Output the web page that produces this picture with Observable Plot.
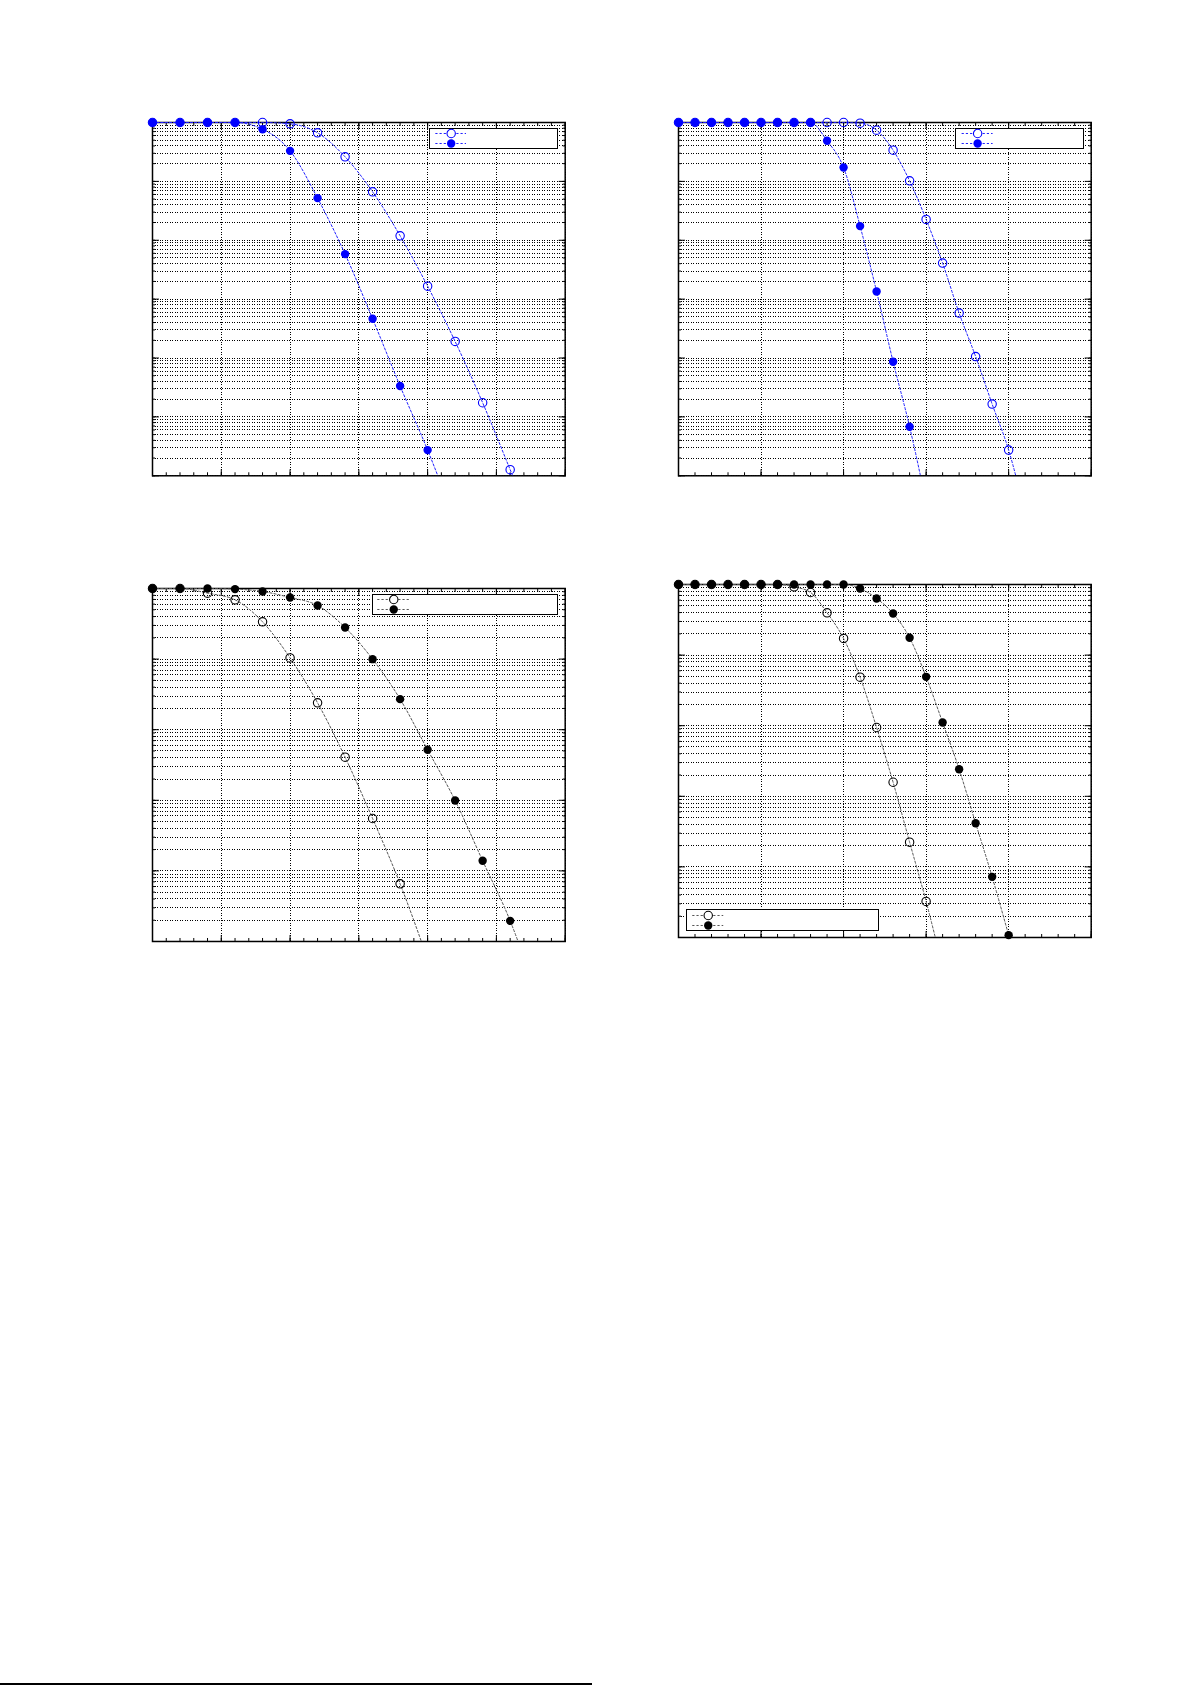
<!DOCTYPE html>
<html><head><meta charset="utf-8">
<script src="https://cdn.jsdelivr.net/npm/d3@7"></script>
<script src="https://cdn.jsdelivr.net/npm/@observablehq/plot@0.6"></script>
<style>
html,body{margin:0;padding:0;background:#fff}
body{width:1191px;height:1685px;position:relative;overflow:hidden;font-family:"DejaVu Sans",sans-serif}
.abs{position:absolute}
.legend{position:absolute;border:1.4px solid #000;background:#fff;box-sizing:border-box}
.footer{position:absolute;left:0;top:1683px;width:592px;height:1.5px;background:#000}
</style></head><body>
<div class="footer"></div>
<script>
// ---- data ----
const p1X = [0,2,4,6,8,10,12,14,16,18,20,22,24,26,28];
const p1Open = [1,1,1,1,1,0.949,0.668,0.261,0.0665,0.0119,1.66e-3,1.91e-4,1.74e-5,1.27e-6,9e-8];
const p1Filled = [1,1,1,1,0.77,0.33,0.0519,5.82e-3,4.64e-4,3.34e-5,2.73e-6,1.7e-7];

const p2X = [0,1,2,3,4,5,6,7,8,9,10,11,12,13,14,15,16,17,18,19,20,21];
const p2Open = [1,1,1,1,1,1,1,1,1,1,1,0.974,0.741,0.339,0.102,0.0226,4.09e-3,5.79e-4,1.06e-4,1.65e-5,2.73e-6,2.3e-7];
const p2Filled = [1,1,1,1,1,1,1,1,1,0.489,0.172,0.0174,1.35e-3,8.65e-5,6.81e-6,3.5e-7];

const p3X = [0,2,4,6,8,10,12,14,16,18,20,22,24,26,28];
const p3Open = [1,1,0.859,0.691,0.337,0.104,0.024,4.08e-3,5.52e-4,6.56e-5,5.6e-6];
const p3Filled = [1,1,1,0.98,0.907,0.746,0.574,0.280,0.0998,0.0271,5.19e-3,9.93e-4,1.39e-4,1.96e-5,1.6e-6];

const p4X = [0,1,2,3,4,5,6,7,8,9,10,11,12,13,14,15,16,17,18,19,20,21];
const p4Open = [1,1,1,1,1,1,1,0.927,0.77,0.397,0.172,0.0487,9.43e-3,1.58e-3,2.24e-4,3.24e-5,3.8e-6];
const p4Filled = [1,1,1,1,1,1,1,1,1,1,1,0.878,0.634,0.388,0.176,0.0492,0.0111,2.42e-3,4.16e-4,7.23e-5,1.08e-5,1.6e-6];

const seriesNames = ["open", "filled"];

// ---- layout ----
const panels = [
  {xs:p1X, open:p1Open, filled:p1Filled, xDomain:[0,30], xMajor:5, xMinor:1, yExp:[-6,0],
   mark:"#0000ff", line:"#2020ff", box:{left:152.3, top:121.7, w:412.7, h:353.3},
   legend:{left:429.3, top:128.3, w:129, h:21, l0:6.7, l1:37.4, y0:5, y1:15.7}},
  {xs:p2X, open:p2Open, filled:p2Filled, xDomain:[0,25], xMajor:5, xMinor:1, yExp:[-6,0],
   mark:"#0000ff", line:"#2020ff", box:{left:678.3, top:121.7, w:412.7, h:353.3},
   legend:{left:955.3, top:128.3, w:129, h:21, l0:7, l1:38, y0:5, y1:15.7}},
  {xs:p3X, open:p3Open, filled:p3Filled, xDomain:[0,30], xMajor:5, xMinor:1, yExp:[-5,0],
   mark:"#000000", line:"#555555", box:{left:152.3, top:588, w:412.7, h:353},
   legend:{left:371.7, top:594.3, w:186.6, h:21, l0:5.6, l1:37.6, y0:5, y1:16}},
  {xs:p4X, open:p4Open, filled:p4Filled, xDomain:[0,25], xMajor:5, xMinor:1, yExp:[-5,0],
   mark:"#000000", line:"#555555", box:{left:678.3, top:584.3, w:412.7, h:353},
   legend:{left:685.7, top:909.3, w:193.6, h:21.7, l0:6.6, l1:37.6, y0:5.7, y1:16.7}}
];

const PAD = 20;
const gridStyle = {stroke:"#000", strokeOpacity:1, strokeWidth:1, strokeDasharray:"1,1.5", shapeRendering:"crispEdges"};
const lineDash = "2.2,2";

function logTicks(lo, hi) {
  const t = [];
  for (let e = lo; e < hi; e++) for (let m = 1; m < 10; m++) t.push(+(m * Math.pow(10, e)).toPrecision(6));
  t.push(Math.pow(10, hi));
  return t;
}

for (const p of panels) {
  const [lo, hi] = p.yExp;
  const yMin = Math.pow(10, lo);
  const yAll = logTicks(lo, hi);
  const yMaj = d3.range(lo, hi + 1).map(e => Math.pow(10, e));
  const xMaj = d3.range(p.xDomain[0], p.xDomain[1] + 1e-9, p.xMajor);
  const xMin = d3.range(p.xDomain[0], p.xDomain[1] + 1e-9, p.xMinor);
  const openData = p.open.map((v, i) => ({x: p.xs[i], y: v}));
  const filledData = p.filled.map((v, i) => ({x: p.xs[i], y: v}));
  const noText = () => "";
  const tickOpts = {tickFormat: noText, label: null, stroke: "#000"};

  const chart = Plot.plot({
    width: p.box.w + 2 * PAD, height: p.box.h + 2 * PAD, margin: PAD,
    style: {background: "transparent", overflow: "visible"},
    x: {domain: p.xDomain},
    y: {type: "log", domain: [yMin, Math.pow(10, hi)]},
    marks: [
      Plot.gridX(xMaj, gridStyle),
      Plot.gridY(yAll, gridStyle),
      Plot.axisX(xMin, {...tickOpts, anchor: "bottom", tickSize: 3, dy: -3}),
      Plot.axisX(xMaj, {...tickOpts, anchor: "bottom", tickSize: 6, dy: -6}),
      Plot.axisX(xMin, {...tickOpts, anchor: "top", tickSize: 3, dy: 3}),
      Plot.axisX(xMaj, {...tickOpts, anchor: "top", tickSize: 6, dy: 6}),
      Plot.axisY(yAll, {...tickOpts, anchor: "left", tickSize: 3, dx: 3}),
      Plot.axisY(yMaj, {...tickOpts, anchor: "left", tickSize: 7, dx: 7}),
      Plot.axisY(yAll, {...tickOpts, anchor: "right", tickSize: 3, dx: -3}),
      Plot.axisY(yMaj, {...tickOpts, anchor: "right", tickSize: 7, dx: -7}),
      Plot.frame({stroke: "#000", strokeWidth: 1.5}),
      Plot.line(openData, {x: "x", y: "y", curve: "monotone-x", clip: true, stroke: p.line, strokeWidth: 1, strokeDasharray: lineDash}),
      Plot.line(filledData, {x: "x", y: "y", curve: "monotone-x", clip: true, stroke: p.line, strokeWidth: 1, strokeDasharray: lineDash}),
      Plot.dot(openData.filter(d => d.y >= yMin), {x: "x", y: "y", r: 4.2, stroke: p.mark, strokeWidth: 1.1, fill: "none"}),
      Plot.dot(filledData.filter(d => d.y >= yMin), {x: "x", y: "y", r: 4.2, fill: p.mark, stroke: "none"})
    ]
  });
  chart.classList.add("abs");
  chart.style.left = (p.box.left - PAD) + "px";
  chart.style.top = (p.box.top - PAD) + "px";
  document.body.appendChild(chart);

  // legend (no text in the reference)
  const L = p.legend;
  const box = document.createElement("div");
  box.className = "legend";
  box.style.left = L.left + "px";
  box.style.top = L.top + "px";
  box.style.width = L.w + "px";
  box.style.height = L.h + "px";
  const leg = Plot.plot({
    width: L.w - 2.8, height: L.h - 2.8,
    marginLeft: L.l0 - 1.4, marginRight: L.w - 1.4 - L.l1, marginTop: L.y0 - 1.4, marginBottom: L.h - 1.4 - L.y1,
    style: {background: "transparent", overflow: "visible"},
    y: {type: "point", domain: seriesNames, axis: null, padding: 0},
    marks: [
      Plot.ruleY(seriesNames, {y: d => d, stroke: p.line, strokeWidth: 1, strokeDasharray: lineDash}),
      Plot.dot(seriesNames.filter(s => s === "open"), {y: d => d, frameAnchor: "middle", r: 4.2, stroke: p.mark, strokeWidth: 1.1, fill: "#fff"}),
      Plot.dot(seriesNames.filter(s => s === "filled"), {y: d => d, frameAnchor: "middle", r: 4.2, fill: p.mark, stroke: "none"})
    ]
  });
  leg.style.display = "block";
  box.appendChild(leg);
  document.body.appendChild(box);
}
</script></body></html>
